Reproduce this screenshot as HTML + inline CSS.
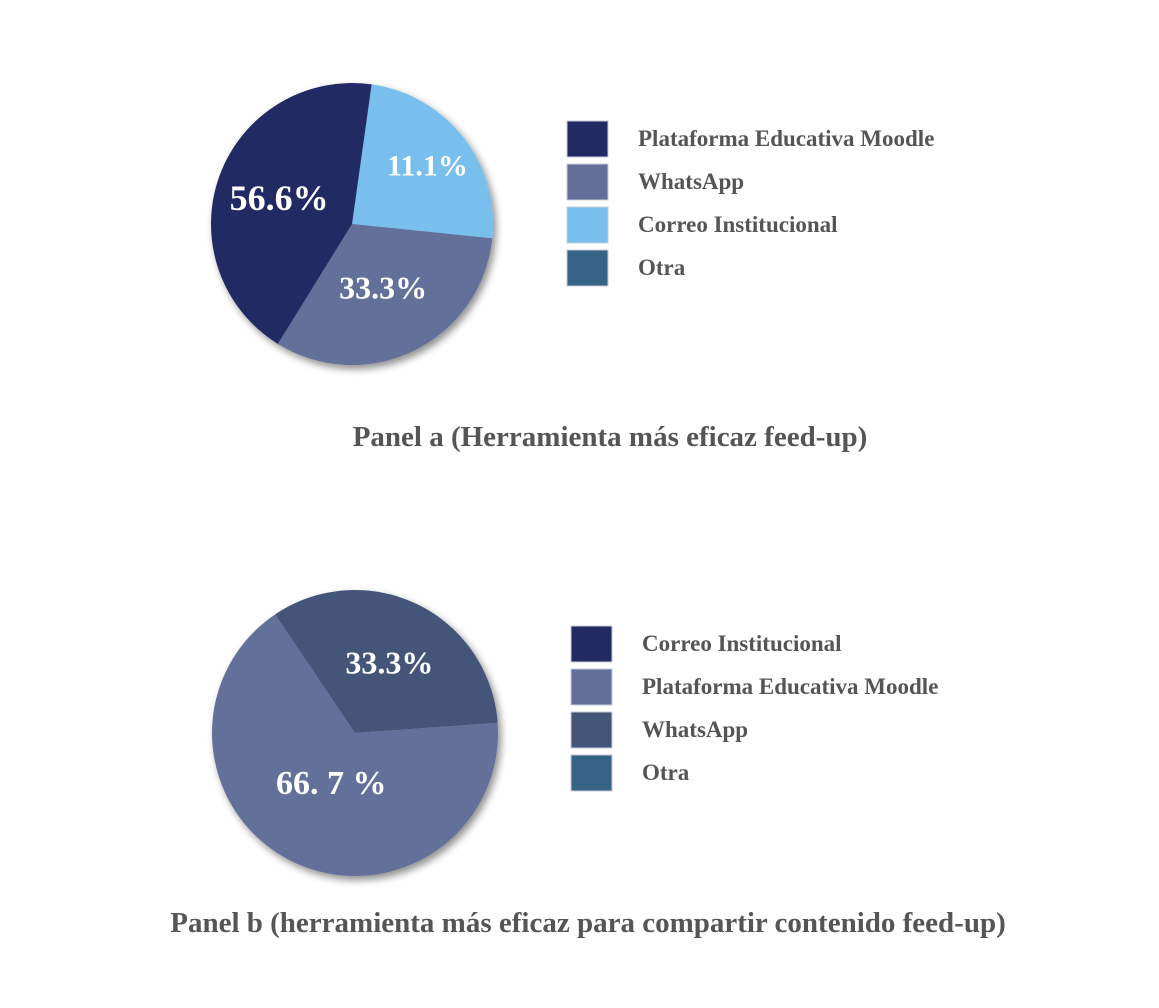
<!DOCTYPE html>
<html><head><meta charset="utf-8"><style>
html,body{margin:0;padding:0;background:#fff;}
svg text{font-family:"Liberation Serif",serif;font-weight:bold;}
</style></head><body>
<svg id="chart" width="1159" height="1003" viewBox="0 0 1159 1003" xmlns="http://www.w3.org/2000/svg">
<defs>
<filter id="sh" x="-20%" y="-20%" width="140%" height="140%"><feGaussianBlur in="SourceAlpha" stdDeviation="4"/><feOffset dx="3" dy="4"/><feComponentTransfer><feFuncA type="linear" slope="0.45"/></feComponentTransfer><feMerge><feMergeNode/><feMergeNode in="SourceGraphic"/></feMerge></filter>
</defs>
<g id="pa"></g>
<g id="pb"></g>
</svg>
<script>
// Panel a data (slice shares as drawn, printed labels as shown)
const aCategories = ["Correo Institucional", "WhatsApp", "Plataforma Educativa Moodle"];
const aValues = [24.4, 32.2, 43.4];
const aLabels = ["11.1%", "33.3%", "56.6%"];
const aColors = ["#78bfee", "#646f99", "#212a63"];
const aLegend = ["Plataforma Educativa Moodle", "WhatsApp", "Correo Institucional", "Otra"];
const aLegendColors = ["#212a63", "#646f99", "#78bfee", "#366487"];
// Panel b data
const bCategories = ["WhatsApp", "Plataforma Educativa Moodle"];
const bValues = [33.3, 66.7];
const bLabels = ["33.3%", "66. 7 %"];
const bColors = ["#44557a", "#646f99"];
const bLegend = ["Correo Institucional", "Plataforma Educativa Moodle", "WhatsApp", "Otra"];
const bLegendColors = ["#212a63", "#646f99", "#44557a", "#366487"];

const NS = "http://www.w3.org/2000/svg";
function mk(tag, attrs, parent){const e=document.createElementNS(NS,tag);for(const k in attrs)e.setAttribute(k,attrs[k]);parent.appendChild(e);return e;}
function pt(cx,cy,r,deg){const a=(deg-90)*Math.PI/180;return [cx+r*Math.cos(a),cy+r*Math.sin(a)];}

function pie(g, cx, cy, r, startDeg, values, labels, colors, cats, labelPos, sizes){
  const tot = values.reduce((s,v)=>s+v,0);
  const pg = mk("g",{filter:"url(#sh)"},g);
  let a0 = startDeg;
  values.forEach((v,i)=>{
    const a1 = a0 + v/tot*360;
    const p0=pt(cx,cy,r,a0), p1=pt(cx,cy,r,a1);
    const large = (a1-a0)>180?1:0;
    const p = mk("path",{d:`M${cx},${cy}L${p0[0]},${p0[1]}A${r},${r} 0 ${large} 1 ${p1[0]},${p1[1]}Z`,fill:colors[i]},pg);
    
    
    const mid=(a0+a1)/2;
    const lp=pt(cx,cy,r*labelPos[i],mid);
    const t = mk("text",{x:lp[0],y:lp[1]+sizes[i]*0.35,"text-anchor":"middle",fill:"#fff","font-size":sizes[i]},g);
    t.textContent = labels[i];
    
    
    a0 = a1;
  });
}
function legend(g, x, tx, ys, names, colors){
  names.forEach((n,i)=>{
    const s = mk("rect",{x:x,y:ys[i],width:41,height:36,fill:colors[i],stroke:"#c8cbd8","stroke-width":1},g);
    
    
    const t = mk("text",{x:tx,y:ys[i]+25,fill:"#555","font-size":23},g);
    t.textContent = n;
    
    
  });
}
const ga=document.getElementById("pa"), gb=document.getElementById("pb");
pie(ga, 352, 224, 141, 8, aValues, aLabels, aColors, aCategories, [0.68,0.5,0.55],[30,32,36]);
legend(ga, 567, 638, [121,164,207,250], aLegend, aLegendColors);
let t = mk("text",{x:610,y:446,"text-anchor":"middle",fill:"#555","font-size":29},ga);
t.textContent="Panel a (Herramienta más eficaz feed-up)";



pie(gb, 355, 733, 143, -34, bValues, bLabels, bColors, bCategories, [0.55,0.38],[32,34]);
legend(gb, 571, 642, [626,669,712,755], bLegend, bLegendColors);
t = mk("text",{x:588,y:932,"text-anchor":"middle",fill:"#555","font-size":29},gb);
t.textContent="Panel b (herramienta más eficaz para compartir contenido  feed-up)";


</script>
</body></html>
